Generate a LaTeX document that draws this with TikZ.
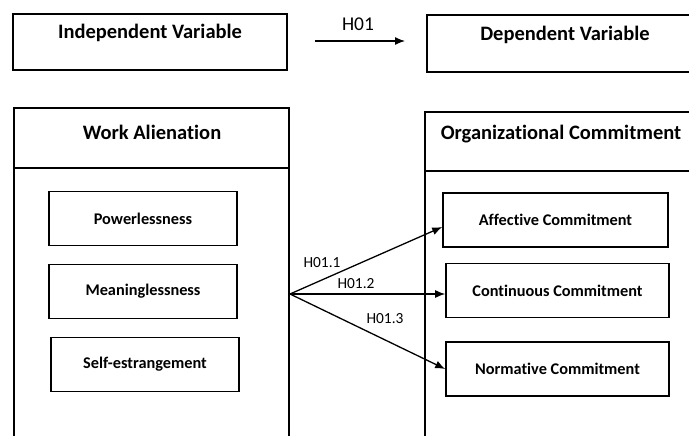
\documentclass[tikz,border=0pt]{standalone}
\usepackage{fontspec}
\setmainfont{Carlito}[Ligatures=NoCommon]
\usetikzlibrary{arrows.meta}
\usetikzlibrary{positioning}
\begin{document}
\begin{tikzpicture}[x=1pt,y=-1pt,
  frame/.style={line width=2.7pt},
  dim/.style={draw,line width=1.6pt,minimum width=188pt,minimum height=54pt,inner sep=0pt,font=\fontsize{16.3}{18}\selectfont\bfseries},
  title/.style={inner sep=0pt,font=\fontsize{20.5}{24}\selectfont\bfseries},
  hyp/.style={inner sep=0pt,font=\fontsize{15.4}{18}\selectfont},
  link/.style={line width=1.3pt,-{Latex[length=10pt,width=8pt]}}]
  \useasboundingbox (0,0) rectangle (689,436);

  \node[draw,frame,minimum width=274pt,minimum height=56pt] (iv) at (150,42) {};
  \node[title] (ivt) at (150,33) {Independent Variable};
  \draw[frame] (689,15) -| (427,72) -- (689,72);
  \node[title] (dvt) at (565,35) {Dependent Variable};
  \coordinate (h0a) at (315,41);
  \coordinate (h0b) at (405,41);
  \draw[link] (h0a) -- (h0b);
  \node[inner sep=0pt,font=\fontsize{19.5}{22}\selectfont] (h0) at (358,24) {H01};

  \draw[frame] (14,436) -- (14,108) -- (289,108) -- (289,436);
  \draw[frame] (14,168) -- (289,168);
  \node[title] (wa) at (152,132) {Work Alienation};
  \draw[frame] (425,436) -- (425,112) -- (689,112);
  \draw[frame] (425,171) -- (689,171);
  \node[title] (oc) at (561,134) {Organizational Commitment};

  \node[dim] (pw) at (143,218.5) {Powerlessness};
  \node[dim] (mn) at (143,291.5) {Meaninglessness};
  \node[dim] (se) at (145,364.5) {Self-estrangement};

  \node[dim,minimum width=225pt] (ac) at (555.5,220) {Affective Commitment};
  \node[dim,minimum width=223pt] (cc) at (557.5,290.5) {Continuous Commitment};
  \node[dim,minimum width=223pt] (nc) at (557.5,369) {Normative Commitment};

  \coordinate (hub) at (290,294);
  \draw[link] (hub) -- ([yshift=-7pt]ac.west);
  \draw[link] (hub) -- ([yshift=-3.5pt]cc.west);
  \draw[link] (hub) -- (nc.west);
  \node[hyp] (h1) at (322,263) {H01.1};
  \node[hyp] (h2) at (356,284) {H01.2};
  \node[hyp] (h3) at (385,319) {H01.3};
\end{tikzpicture}
\end{document}
